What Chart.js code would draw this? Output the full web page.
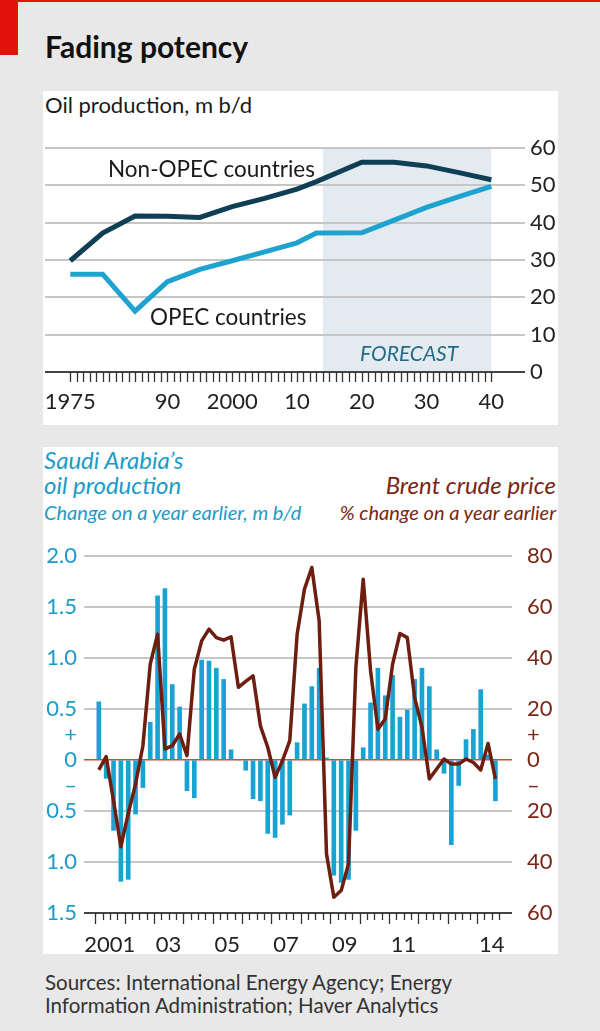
<!DOCTYPE html>
<html>
<head>
<meta charset="utf-8">
<script src="https://cdn.jsdelivr.net/npm/chart.js@4.4.1/dist/chart.umd.min.js"></script>
<style>
  body { margin: 0; width: 600px; height: 1031px; background: #e8e8e8; position: relative; overflow: hidden; font-family: Lato, sans-serif; color: #1a1a1a; }
  .abs { position: absolute; white-space: nowrap; line-height: 1; }
  .panel { position: absolute; left: 43px; width: 515px; background: #fff; }
  canvas { position: absolute; }
</style>
</head>
<body>
<div class="abs" style="left:0;top:0;width:600px;height:2px;background:#e3120b"></div>
<div class="abs" style="left:0;top:0;width:18px;height:55px;background:#e3120b"></div>
<div class="abs" style="left:45px;top:31px;font-size:30px;font-weight:700;color:#111">Fading potency</div>

<div class="panel" style="top:91px;height:334px"></div>
<div class="panel" style="top:447px;height:507px"></div>

<div class="abs" style="left:45px;top:94px;font-size:22px">Oil production, m b/d</div>
<canvas id="oilChart" width="515" height="305" style="left:43px;top:120px"></canvas>
<div class="abs" style="left:108px;top:158px;font-size:22.5px">Non-OPEC countries</div>
<div class="abs" style="left:150px;top:306px;font-size:22.5px">OPEC countries</div>
<div class="abs" style="left:360px;top:342px;font-size:21px;font-style:italic;color:#236a86">FORECAST</div>

<div class="abs" style="left:44px;top:447px;font-size:24px;font-style:italic;color:#1b9bc9;line-height:25px">Saudi Arabia’s<br>oil production</div>
<div class="abs" style="left:44px;top:502px;font-size:20px;font-style:italic;color:#1b9bc9">Change on a year earlier, m b/d</div>
<div class="abs" style="right:44px;top:472px;font-size:24px;font-style:italic;color:#7a2614;line-height:25px">Brent crude price</div>
<div class="abs" style="right:44px;top:502px;font-size:20px;font-style:italic;color:#7a2614">% change on a year earlier</div>
<canvas id="saudiChart" width="515" height="424" style="left:43px;top:530px"></canvas>

<div class="abs" style="left:45px;top:971px;font-size:20.5px;color:#333;line-height:23px">Sources: International Energy Agency; Energy<br>Information Administration; Haver Analytics</div>

<script>
// --- top chart: oil production, m b/d
const oilYears = [1975, 1980, 1985, 1990, 1995, 2000, 2005, 2010, 2013, 2020, 2025, 2030, 2035, 2040];
const nonOpec  = [29.8, 37.2, 41.8, 41.7, 41.4, 44.3, 46.5, 49.0, 51.0, 56.2, 56.2, 55.2, 53.4, 51.5];
const opec     = [26.2, 26.2, 16.3, 24.2, 27.5, 29.8, 32.2, 34.6, 37.2, 37.3, 40.7, 44.1, 47.0, 49.7];
const forecastFrom = 2014;
const forecastTo = 2040;
const oilTickLabels = [1975, 1990, 2000, 2010, 2020, 2030, 2040];
const oilTickText = ['1975', '90', '2000', '10', '20', '30', '40'];

// --- bottom chart: quarterly, 2001Q1 - 2014Q3
const quarters = [
  '2001Q1','2001Q2','2001Q3','2001Q4','2002Q1','2002Q2','2002Q3','2002Q4',
  '2003Q1','2003Q2','2003Q3','2003Q4','2004Q1','2004Q2','2004Q3','2004Q4',
  '2005Q1','2005Q2','2005Q3','2005Q4','2006Q1','2006Q2','2006Q3','2006Q4',
  '2007Q1','2007Q2','2007Q3','2007Q4','2008Q1','2008Q2','2008Q3','2008Q4',
  '2009Q1','2009Q2','2009Q3','2009Q4','2010Q1','2010Q2','2010Q3','2010Q4',
  '2011Q1','2011Q2','2011Q3','2011Q4','2012Q1','2012Q2','2012Q3','2012Q4',
  '2013Q1','2013Q2','2013Q3','2013Q4','2014Q1','2014Q2','2014Q3'
];
const saudiChange = [
  0.57, -0.18, -0.69, -1.19,   -1.17, -0.53, -0.27, 0.37,
  1.61, 1.68, 0.74, 0.52,      -0.30, -0.37, 0.98, 0.97,
  0.90, 0.79, 0.10, 0.00,      -0.10, -0.38, -0.40, -0.72,
  -0.76, -0.63, -0.54, 0.17,   0.55, 0.72, 0.90, 0.02,
  -1.13, -1.20, -1.17, -0.69,  0.12, 0.56, 0.90, 0.63,
  0.83, 0.42, 0.49, 0.79,      0.90, 0.72, 0.10, -0.13,
  -0.83, -0.25, 0.20, 0.30,    0.69, 0.05, -0.40
];
const brentChange = [
  -3.9, 1.3, -16, -34,     -21, -9.4, 5.6, 37.6,
  49.3, 4.3, 5.6, 10.2,    1.7, 35.6, 46.7, 51.3,
  48, 47, 48.3, 28.5,      30.8, 33, 13.4, 5,
  -6.8, -0.3, 7.6, 49.3,   67, 75.5, 54.6, -36.8,
  -53.8, -51.2, -40.7, 36.3, 70.9, 35, 12.1, 16.1,
  37.6, 49.6, 48, 24.5,    12.8, -7.4, -3.5, 0.4,
  -1.6, -1.6, 0.4, -1,     -3.9, 6.5, -7.4
];
const saudiTicks = [-1.5, -1, -0.5, -0.25, 0, 0.25, 0.5, 1, 1.5, 2];
const brentTicks = [-60, -40, -20, -10, 0, 10, 20, 40, 60, 80];
const yearLabels = [2001, 2003, 2005, 2007, 2009, 2011, 2014];
const yearText = ['2001', '03', '05', '07', '09', '11', '14'];

Chart.defaults.font.family = 'Lato, sans-serif';
Chart.defaults.animation = false;

// quarter label -> mid-quarter position on a year axis
function quarterPos(q) {
  return Number(q.slice(0, 4)) + (Number(q.slice(5)) - 0.5) / 4;
}

// keep the plot area where it is, no extra room for edge labels
function fixX(height) {
  return s => { s.height = height; s.paddingLeft = 0; s.paddingRight = 0; };
}

// small tick marks under the x axis
const tickMarks = {
  id: 'tickMarks',
  afterDraw(chart, args, opts) {
    const { ctx, chartArea } = chart;
    const x = chart.scales.x;
    ctx.save();
    ctx.strokeStyle = '#333';
    ctx.lineWidth = 1.3;
    opts.marks.forEach(m => {
      const px = Math.round(x.getPixelForValue(m.v)) + 0.5;
      ctx.beginPath();
      ctx.moveTo(px, chartArea.bottom);
      ctx.lineTo(px, chartArea.bottom + m.len);
      ctx.stroke();
    });
    ctx.restore();
  }
};

// shaded forecast period, under the grid
const forecastShade = {
  id: 'forecastShade',
  beforeDraw(chart, args, opts) {
    if (!opts.to) return;
    const { ctx } = chart;
    const x = chart.scales.x, y = chart.scales.y;
    const x0 = x.getPixelForValue(opts.from), x1 = x.getPixelForValue(opts.to);
    const y0 = y.getPixelForValue(y.max), y1 = y.getPixelForValue(y.min);
    ctx.save();
    ctx.fillStyle = '#e4ebf0';
    ctx.fillRect(x0, y0, x1 - x0, y1 - y0);
    ctx.restore();
  }
};

const oilMarks = [];
for (let yr = 1975; yr <= 2040; yr++) oilMarks.push({ v: yr, len: 10 });

new Chart(document.getElementById('oilChart'), {
  type: 'line',
  data: {
    datasets: [
      { label: 'Non-OPEC countries', data: oilYears.map((yr, i) => ({ x: yr, y: nonOpec[i] })),
        borderColor: '#0f3f55', borderWidth: 5, pointRadius: 0, tension: 0 },
      { label: 'OPEC countries', data: oilYears.map((yr, i) => ({ x: yr, y: opec[i] })),
        borderColor: '#1ea2cf', borderWidth: 5, pointRadius: 0, tension: 0 }
    ]
  },
  options: {
    responsive: false,
    layout: { padding: { left: 2, top: 28, right: 0, bottom: 0 } },
    plugins: {
      legend: { display: false },
      tooltip: { enabled: false },
      tickMarks: { marks: oilMarks },
      forecastShade: { from: forecastFrom, to: forecastTo }
    },
    scales: {
      x: {
        type: 'linear', min: 1971.1, max: 2045.2,
        grid: { display: false }, border: { display: false },
        afterBuildTicks: s => { s.ticks = oilTickLabels.map(v => ({ value: v })); },
        afterFit: fixX(53),
        ticks: { autoSkip: false, maxRotation: 0, padding: 9, color: '#222', font: { size: 22 },
                 callback: v => oilTickText[oilTickLabels.indexOf(v)] }
      },
      y: {
        position: 'right', min: 0, max: 60,
        border: { display: false },
        grid: { drawTicks: false, lineWidth: 2,
                color: c => c.tick.value === 0 ? '#444' : '#c6c6c6' },
        afterFit: s => { s.width = 33; },
        ticks: { stepSize: 10, padding: 5, color: '#222', font: { size: 22 } }
      }
    }
  },
  plugins: [forecastShade, tickMarks]
});

const saudiMarks = [];
for (let k = 0; k <= quarters.length; k++) saudiMarks.push({ v: 2001 + k / 4, len: k % 4 === 0 ? 11 : 7 });

new Chart(document.getElementById('saudiChart'), {
  type: 'bar',
  data: {
    datasets: [
      { type: 'line', label: 'Brent crude price', yAxisID: 'y2', order: 0,
        data: quarters.map((q, i) => ({ x: quarterPos(q), y: brentChange[i] })),
        borderColor: '#6e1e0f', borderWidth: 3.5, pointRadius: 0, tension: 0, borderJoinStyle: 'round' },
      { type: 'bar', label: 'Saudi Arabia’s oil production', yAxisID: 'y', order: 1,
        data: quarters.map((q, i) => ({ x: quarterPos(q), y: saudiChange[i] })),
        backgroundColor: '#19a3d3', barThickness: 4 }
    ]
  },
  options: {
    responsive: false,
    layout: { padding: { left: 0, top: 26, right: 0, bottom: 0 } },
    plugins: {
      legend: { display: false },
      tooltip: { enabled: false },
      tickMarks: { marks: saudiMarks }
    },
    scales: {
      x: {
        type: 'linear', min: 2000.62, max: 2015.19, offset: false,
        grid: { display: false }, border: { display: false },
        afterBuildTicks: s => { s.ticks = yearLabels.map(v => ({ value: v + 0.5 })); },
        afterFit: fixX(41),
        ticks: { autoSkip: false, maxRotation: 0, padding: 11, color: '#222', font: { size: 22 },
                 callback: v => yearText[yearLabels.indexOf(v - 0.5)] }
      },
      y: {
        position: 'left', min: -1.5, max: 2,
        border: { display: false },
        grid: { drawTicks: false,
                lineWidth: c => c.tick.value === 0 ? 1.5 : 2,
                color: c => {
                  const v = c.tick.value;
                  if (v === 0) return '#e0452f';
                  if (v === -1.5) return '#444';
                  if (Math.abs(v) === 0.25) return 'rgba(0,0,0,0)';
                  return '#c6c6c6';
                } },
        afterBuildTicks: s => { s.ticks = saudiTicks.map(v => ({ value: v })); },
        afterFit: s => { s.width = 41; },
        ticks: { autoSkip: false, padding: 7, color: '#1b9bc9', font: { size: 22 },
                 callback: v => v === 0.25 ? '+' : v === -0.25 ? '–' : v === 0 ? '0' : Math.abs(v).toFixed(1) }
      },
      y2: {
        position: 'right', min: -60, max: 80,
        border: { display: false },
        grid: { display: false },
        afterBuildTicks: s => { s.ticks = brentTicks.map(v => ({ value: v })); },
        afterFit: s => { s.width = 46; },
        ticks: { autoSkip: false, padding: 7, color: '#7a2614', font: { size: 22 },
                 callback: v => v === 10 ? '+' : v === -10 ? '–' : String(Math.abs(v)) }
      }
    }
  },
  plugins: [tickMarks]
});
</script>
</body>
</html>
